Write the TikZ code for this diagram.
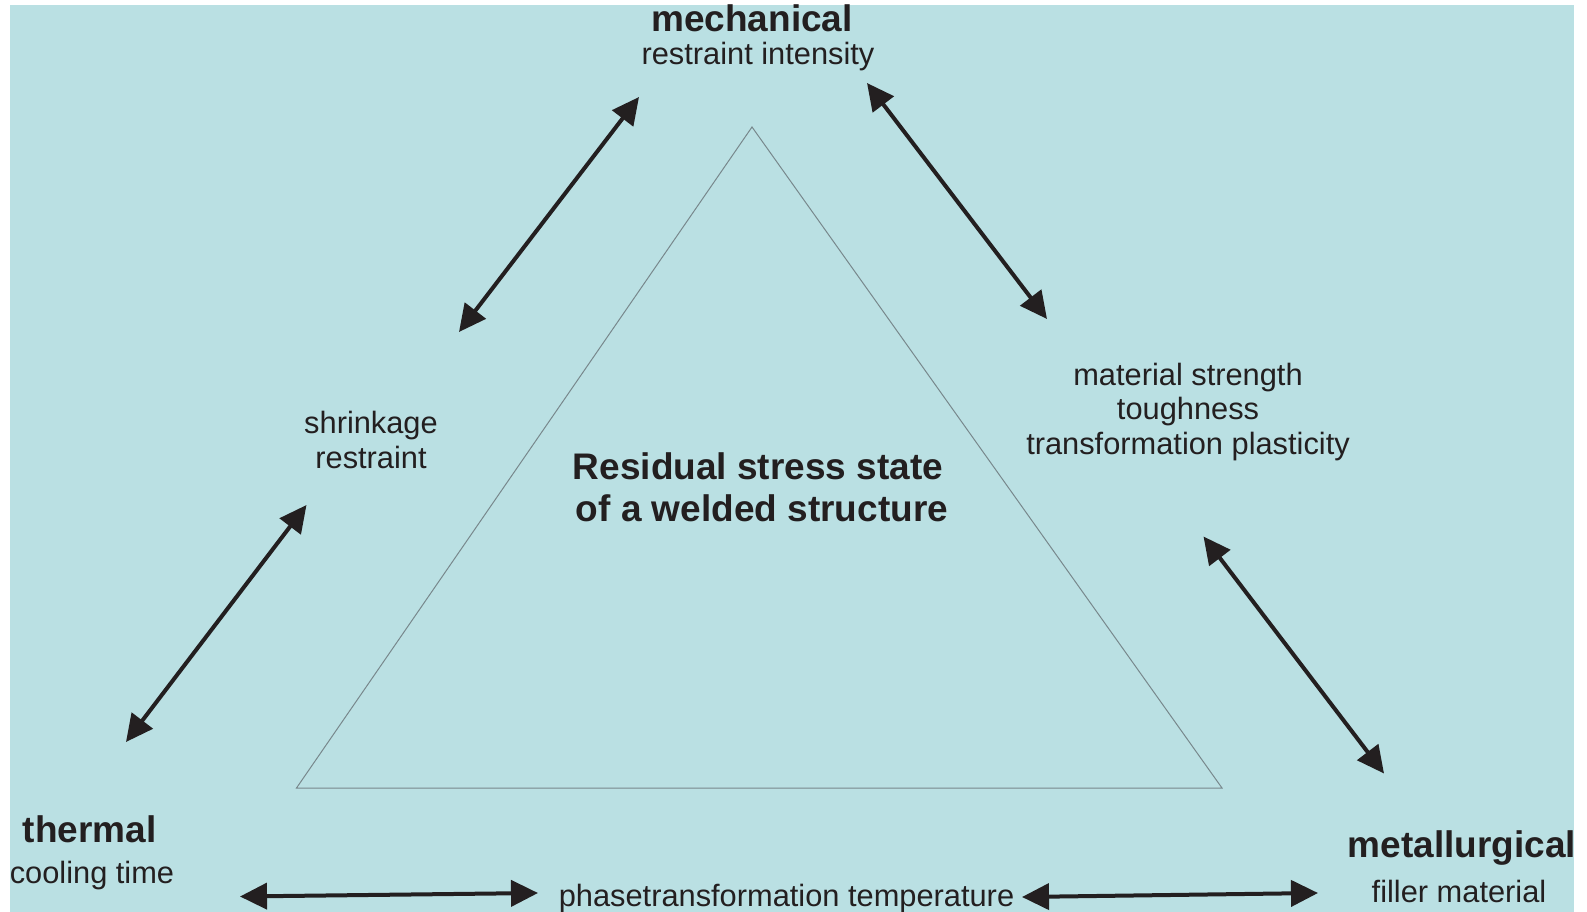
\documentclass[tikz,border=0pt]{standalone}
\usepackage{fontspec}
\setmainfont{Liberation Sans}
\usetikzlibrary{arrows.meta}

\definecolor{bgblue}{RGB}{186,224,227}
\definecolor{ink}{RGB}{35,31,32}
\definecolor{edgegray}{RGB}{120,136,140}

\tikzset{
  headtext/.style={inner sep=0pt, anchor=base, text=ink, font=\fontsize{37}{42}\selectfont\bfseries, align=center},
  subtext/.style={inner sep=0pt, anchor=base, text=ink, font=\fontsize{30.8}{34.5}\selectfont, align=center},
  link/.style={{Triangle[length=27pt,width=26pt]}-{Triangle[length=27pt,width=26pt]}, line width=4pt, draw=ink}
}

\begin{document}
\begin{tikzpicture}[x=1pt, y=-1pt]
		\useasboundingbox (0,0) rectangle (1587,912);
		\begin{scope}
		\clip (10,5) rectangle (1574,912);
		\fill[bgblue] (10,5) rectangle (1574,912);
		
		\draw[color=edgegray, line width=1pt, line join=miter] (752,127) -- (1222,788) -- (296.5,788) -- cycle;
		
		% corner labels
		\node[headtext] (mech) at (752,32) {mechanical};
		\node[subtext] (mechsub) at (758,65) {restraint intensity};
		\node[headtext] (therm) at (89.6,842) {thermal};
		\node[subtext] (thermsub) at (92,883) {cooling time};
		\node[headtext] (metal) at (1462,857) {metallurgical};
		\node[subtext] (metalsub) at (1459,902) {filler material};
		
		% side labels (base = last line)
		\node[subtext] (shrink) at (371,468) {shrinkage\\restraint};
		\node[subtext] (mater) at (1188,454) {material strength\\toughness\\transformation plasticity};
		\node[subtext] (phase) at (786.5,906) {phasetransformation temperature};
		\node[headtext] (resid) at (758,521) {Residual stress state\\\hspace*{8pt}of a welded structure};
		
		% arrow ends
		\coordinate (mech-sw) at (639,97);
		\coordinate (shrink-ne) at (459,332);
		\coordinate (mech-se) at (867,83);
		\coordinate (mater-nw) at (1047,319);
		\coordinate (shrink-sw) at (306.5,505);
		\coordinate (therm-ne) at (126,742);
		\coordinate (mater-se) at (1203.5,536.5);
		\coordinate (metal-nw) at (1384,773.5);
		\coordinate (therm-e) at (240,896.5);
		\coordinate (phase-w) at (538,893);
		\coordinate (phase-e) at (1022,897);
		\coordinate (metal-w) at (1318,893);
		
		\draw[link] (shrink-ne) -- (mech-sw);
		\draw[link] (mech-se) -- (mater-nw);
		\draw[link] (shrink-sw) -- (therm-ne);
		\draw[link] (mater-se) -- (metal-nw);
		\draw[link] (therm-e) -- (phase-w);
		\draw[link] (phase-e) -- (metal-w);
		\end{scope}
\end{tikzpicture}
\end{document}
